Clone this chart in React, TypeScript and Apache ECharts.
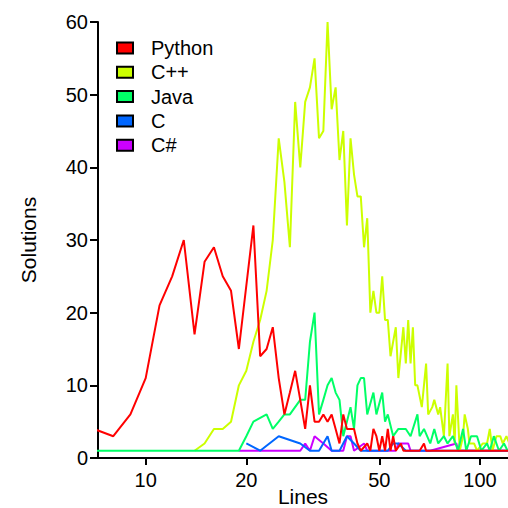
import React, { useEffect, useRef } from "react";
import * as echarts from "echarts";

const FONT = "'Liberation Sans', Arial, Helvetica, sans-serif";

const xTicks = [10, 20, 50, 100];
const languages = ["Python", "C++", "Java", "C", "C#"];
const colors = ["#FF0000", "#CCFF00", "#00FF66", "#0066FF", "#CC00FF"];

// [lines, solutions]
const pythonData = [
  [7, 4], [8, 3], [9, 6], [10, 11], [11, 21], [12, 25], [13, 30], [14, 17], [15, 27], [16, 29],
  [17, 25], [18, 23], [19, 15], [21, 32], [22, 14], [23, 15], [24, 18], [25, 11], [26, 6], [27, 9],
  [28, 12], [29, 8], [30, 4], [31, 10], [32, 5], [33, 5], [34, 6], [35, 5], [36, 6], [37, 4],
  [38, 2], [39, 6], [40, 4], [42, 4], [43, 2], [44, 1], [46, 2], [47, 1], [48, 4], [49, 3],
  [50, 1], [51, 3], [52, 1], [53, 4], [54, 1], [55, 3], [56, 1], [58, 2], [59, 1], [66, 1],
  [68, 2], [69, 1], [125, 1],
];

const cppData = [
  [14, 1], [15, 2], [16, 4], [17, 4], [18, 5], [19, 10], [20, 12], [21, 16], [22, 19], [23, 23],
  [24, 30], [25, 44], [26, 38], [27, 29], [28, 49], [29, 40], [30, 49], [31, 51], [32, 55], [33, 44],
  [34, 45], [35, 60], [36, 48], [37, 51], [38, 41], [39, 45], [40, 32], [41, 44], [42, 39], [43, 36],
  [44, 36], [45, 29], [46, 33], [47, 20], [48, 23], [49, 20], [50, 20], [51, 25], [52, 19], [53, 19],
  [54, 14], [56, 18], [57, 11], [59, 18], [60, 13], [61, 19], [62, 13], [63, 18], [64, 10], [65, 10],
  [67, 7], [69, 13], [70, 6], [72, 7], [73, 8], [75, 6], [76, 7], [78, 3], [80, 13], [81, 3],
  [83, 6], [84, 2], [85, 10], [87, 1], [89, 3], [90, 6], [92, 4], [93, 2], [96, 2], [98, 1],
  [102, 2], [105, 2], [107, 4], [109, 1], [112, 3], [115, 3], [117, 2], [120, 3], [125, 1],
];

const javaData = [
  [7, 1], [19, 1], [20, 3], [21, 5], [23, 6], [24, 4], [25, 5], [26, 6], [27, 6], [29, 8],
  [30, 8], [31, 16], [32, 20], [33, 6], [34, 8], [35, 10], [36, 11], [37, 9], [38, 8], [39, 3],
  [41, 7], [42, 4], [43, 10], [44, 11], [45, 11], [46, 6], [48, 9], [49, 6], [51, 9], [52, 5],
  [53, 6], [55, 3], [57, 4], [60, 4], [62, 3], [65, 6], [66, 3], [68, 4], [71, 2], [73, 4],
  [75, 2], [78, 3], [80, 2], [83, 3], [86, 1], [89, 4], [91, 1], [94, 3], [98, 3], [101, 1],
  [105, 2], [107, 1], [110, 3], [114, 1], [118, 2], [121, 1],
];

const cData = [
  [20, 2], [22, 1], [25, 3], [29, 2], [31, 1], [33, 1], [35, 3], [36, 1], [38, 1], [40, 3],
  [42, 2], [44, 1], [53, 1], [55, 2], [57, 2], [60, 1], [125, 1],
];

const csharpData = [
  [19, 1], [29, 1], [30, 2], [31, 1], [32, 3], [34, 2], [36, 1], [39, 1], [40, 3], [41, 3],
  [42, 1], [45, 2], [46, 1], [56, 1], [57, 2], [61, 2], [62, 1], [71, 1], [85, 2], [86, 1],
  [125, 1],
];

const seriesData = [pythonData, cppData, javaData, cData, csharpData];
// drawing order (last on top)
const drawOrder = [4, 3, 1, 2, 0];

export default function App() {
  const ref = useRef<HTMLDivElement>(null);

  useEffect(() => {
    if (!ref.current) return;
    const chart = echarts.init(ref.current, null, { renderer: "svg" });
    const axisLine = { show: true, lineStyle: { color: "#000", width: 2 } };
    chart.setOption({
      animation: false,
      backgroundColor: "#fff",
      textStyle: { fontFamily: FONT },
      grid: { left: 98, right: 0, top: 22, bottom: 50, containLabel: false, outerBoundsMode: "none" },
      legend: {
        data: languages,
        orient: "vertical",
        left: 111,
        top: 33,
        itemWidth: 16,
        itemHeight: 11,
        itemGap: 4.3,
        icon: "rect",
        itemStyle: { borderColor: "#000", borderWidth: 2 },
        textStyle: { fontSize: 20, color: "#000", fontFamily: FONT, lineHeight: 20, padding: [0, 0, 0, 13] },
        selectedMode: false,
      },
      xAxis: {
        type: "log",
        logBase: 10,
        min: 7.2,
        max: 121.3,
        name: "Lines",
        nameLocation: "middle",
        nameGap: 28,
        nameMoveOverlap: false,
        nameTextStyle: { fontSize: 21, color: "#000", fontFamily: FONT },
        axisLine,
        axisTick: { show: true, inside: false, length: 7, customValues: xTicks, lineStyle: { color: "#000", width: 2 } },
        axisLabel: { show: true, customValues: xTicks, fontSize: 20, color: "#000", margin: 12, fontFamily: FONT, formatter: (v: number) => String(Math.round(v)) },
        splitLine: { show: false },
        minorTick: { show: false },
        minorSplitLine: { show: false },
      },
      yAxis: {
        type: "value",
        min: 0,
        max: 60,
        interval: 10,
        name: "Solutions",
        nameLocation: "middle",
        nameRotate: 90,
        nameGap: 59,
        nameMoveOverlap: false,
        nameTextStyle: { fontSize: 21, color: "#000", fontFamily: FONT },
        axisLine,
        axisTick: { show: true, inside: false, length: 8, lineStyle: { color: "#000", width: 2 } },
        axisLabel: { fontSize: 20, color: "#000", margin: 10, fontFamily: FONT },
        splitLine: { show: false },
      },
      series: drawOrder.map((i) => ({
        name: languages[i],
        type: "line",
        data: seriesData[i],
        showSymbol: false,
        symbol: "none",
        color: colors[i],
        itemStyle: { color: colors[i] },
        lineStyle: { color: colors[i], width: 2 },
        clip: true,
      })),
    });
    return () => chart.dispose();
  }, []);

  return (
    <div
      ref={ref}
      style={{ position: "fixed", left: 0, top: 0, width: 508, height: 508, background: "#fff" }}
    />
  );
}
